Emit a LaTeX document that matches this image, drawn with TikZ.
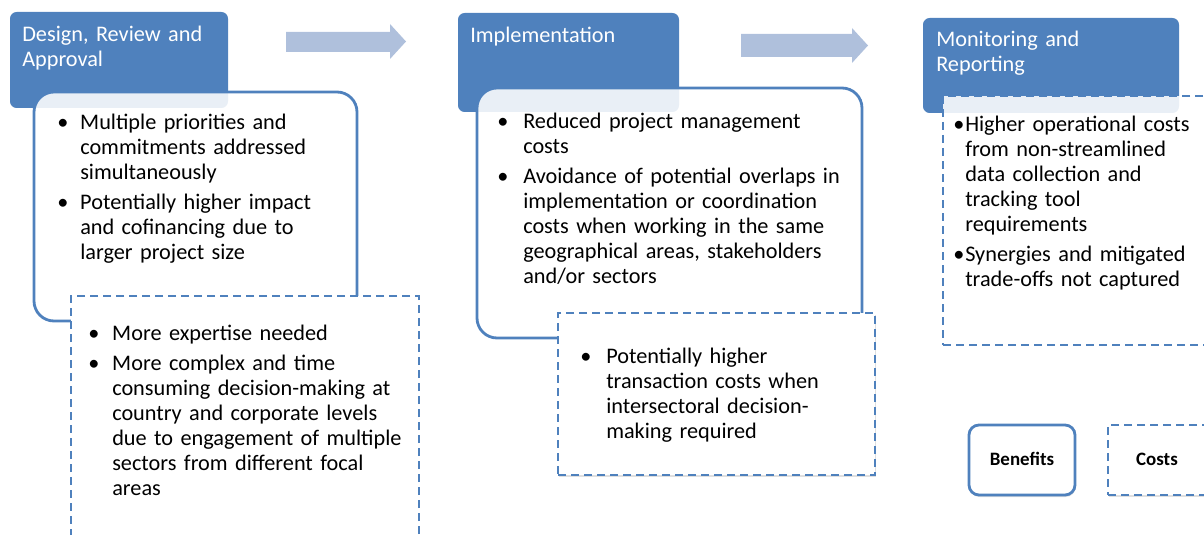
\documentclass[tikz,border=0pt]{standalone}
\usepackage{fontspec}
\setmainfont{Carlito}
\usetikzlibrary{fit,shadows}
\definecolor{hblue}{HTML}{4F81BD}
\definecolor{ablue}{HTML}{AFC0DC}
\newlength\bulind
\newcommand\bulf{\hangindent=\bulind\hangafter=1\noindent\makebox[\bulind][l]{\textbullet}}
\newcommand\bul{\par\bulf}
\tikzset{
 hdr/.style={fill=hblue, draw=none, rounded corners=5pt, inner sep=0pt},
 benbox/.style={draw=hblue, line width=2.1pt, fill=white, fill opacity=0.88, rounded corners=15pt, inner sep=0pt},
 costbox/.style={draw=hblue, line width=2.2pt, dash pattern=on 6pt off 3.75pt, fill=white, inner sep=0pt},
 shad/.style={drop shadow={opacity=0.25, shadow xshift=0.5pt, shadow yshift=-1.5pt}},
 hdrtext/.style={text=white, font=\fontsize{16.7}{18.5}\selectfont, anchor=base west, inner sep=0pt, text width=6cm, align=left},
 bodytext/.style={text=black, font=\fontsize{16.7}{18.75}\selectfont, anchor=base west, inner sep=0pt, text width=13cm, align=left},
 blockarrow/.style={fill=ablue, draw=none},
 legtext/.style={font=\bfseries\fontsize{14.2}{16}\selectfont, anchor=base, inner sep=0pt}
}
\begin{document}
\begin{tikzpicture}[x=0.75pt,y=-0.75pt]
\useasboundingbox (0,0) rectangle (1204,535);
% column 1
\node[hdr, fit={(10,12) (228,108)}] (h1) {};
\node[benbox, fit={(34,92) (357,321)}] (b1) {};
\node[costbox, fit={(71,296) (419,550)}] (c1) {};
% column 2
\node[hdr, fit={(458,13) (679,112)}] (h2) {};
\node[benbox, fit={(477,88) (862,338)}] (b2) {};
\node[costbox, shad, fit={(558,313) (875,475)}] (c2) {};
% column 3
\node[hdr, fit={(923,18) (1179,113)}] (h3) {};
\node[costbox, fill opacity=0.88, fit={(943,96) (1215,345)}] (c3) {};
% arrows
\path[blockarrow] (286,32) -- (390,32) -- (390,24) -- (406,41.5) -- (390,59) -- (390,52) -- (286,52) -- cycle;
\path[blockarrow] (741,34) -- (852,34) -- (852,28) -- (868,45.5) -- (852,63) -- (852,57) -- (741,57) -- cycle;
% legend
\node[draw=hblue, line width=2.1pt, fill=white, rounded corners=7.5pt, inner sep=0pt, shad, fit={(969,425) (1075,495)}] (lb) {};
\node[costbox, shad, fit={(1108,425) (1215,495)}] (lc) {};
\node[legtext] (lbt) at (1022,465) {Benefits};
\node[legtext] (lct) at (1157,465) {Costs};
% header texts
\node[hdrtext] (h1t) at (22,42) {Design, Review and\\Approval};
\node[hdrtext] (h2t) at (470,43) {Implementation};
\node[hdrtext] (h3t) at (936,47) {Monitoring and\\Reporting};
% body texts
\node[bodytext] (b1t) at (57,130) {\setlength\bulind{17.25pt}\setlength\parskip{3.75pt}%
\bulf Multiple priorities and\newline commitments addressed\newline simultaneously
\bul Potentially higher impact\newline and cofinancing due to\newline larger project size\par};
\node[bodytext] (c1t) at (88,340) {\setlength\bulind{18pt}\setlength\parskip{3.75pt}%
\bulf More expertise needed
\bul More complex and time\newline consuming decision-making at\newline country and corporate levels\newline due to engagement of multiple\newline sectors from different focal\newline areas\par};
\node[bodytext] (b2t) at (497,128) {\setlength\bulind{19.5pt}\setlength\parskip{3.75pt}%
\bulf Reduced project management\newline costs
\bul Avoidance of potential overlaps in\newline implementation or coordination\newline costs when working in the same\newline geographical areas, stakeholders\newline and/or sectors\par};
\node[bodytext] (c2t) at (580,363) {\setlength\bulind{19.5pt}\setlength\parskip{3.75pt}%
\bulf Potentially higher\newline transaction costs when\newline intersectoral decision-\newline making required\par};
\node[bodytext] (c3t) at (953,132) {\setlength\bulind{9pt}\setlength\parskip{3.75pt}%
\bulf Higher operational costs\newline from non-streamlined\newline data collection and\newline tracking tool\newline requirements
\bul Synergies and mitigated\newline trade-offs not captured\par};
\end{tikzpicture}
\end{document}
